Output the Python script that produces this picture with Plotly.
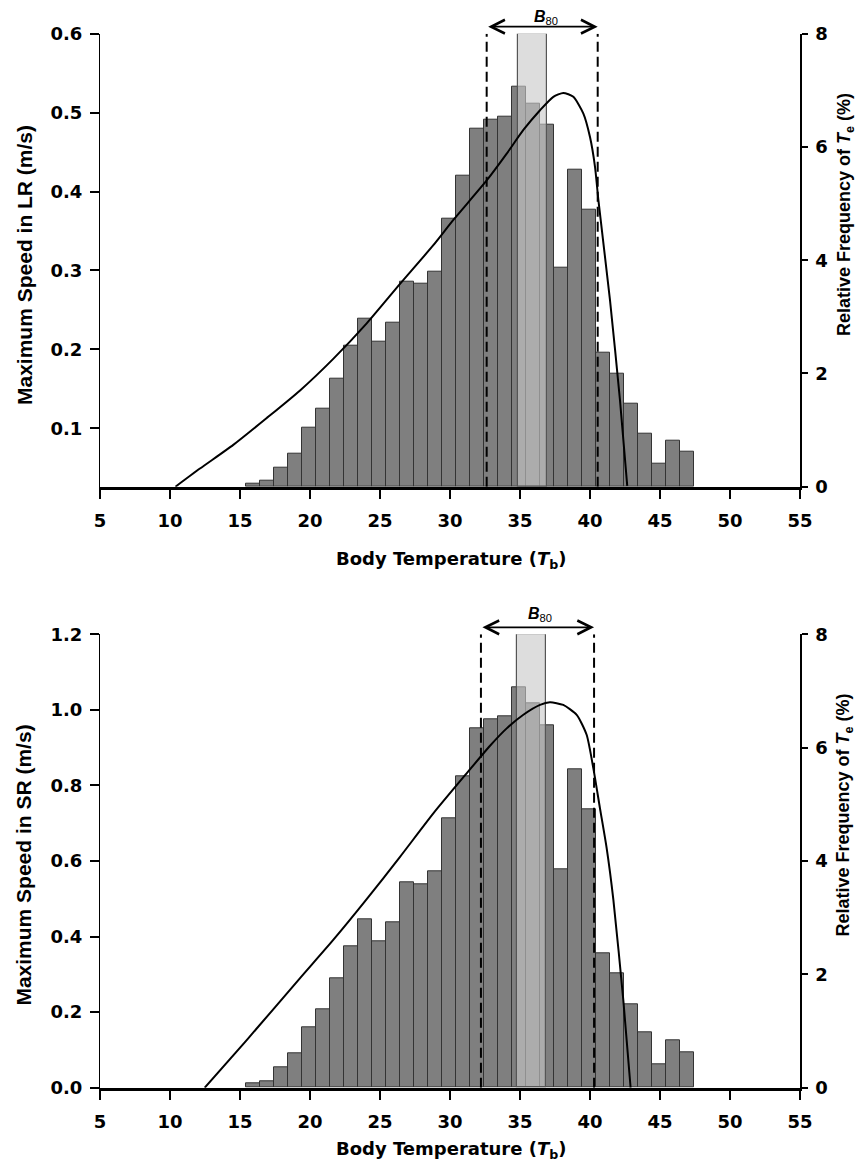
import plotly.graph_objects as go

# ---------------- data ----------------
bin_centers = [15.9, 16.9, 17.9, 18.9, 19.9, 20.9, 21.9, 22.9, 23.9, 24.9, 25.9, 26.9,
               27.9, 28.9, 29.9, 30.9, 31.9, 32.9, 33.9, 34.9, 35.9, 36.9, 37.9, 38.9,
               39.9, 40.9, 41.9, 42.9, 43.9, 44.9, 45.9, 46.9]

freq_lr = [0.06, 0.10, 0.34, 0.58, 1.05, 1.37, 1.91, 2.49, 2.96, 2.56, 2.90, 3.62,
           3.58, 3.79, 4.74, 5.49, 6.33, 6.49, 6.54, 7.07, 6.77, 6.39, 3.87, 5.60,
           4.90, 2.37, 1.99, 1.47, 0.94, 0.40, 0.81, 0.61]
freq_sr = [0.08, 0.12, 0.36, 0.60, 1.07, 1.38, 1.93, 2.50, 2.97, 2.58, 2.92, 3.62,
           3.59, 3.81, 4.75, 5.50, 6.34, 6.50, 6.55, 7.07, 6.78, 6.39, 3.86, 5.61,
           4.91, 2.37, 2.01, 1.48, 0.97, 0.41, 0.84, 0.63]

curve_lr_t = [10.39, 12.14, 14.52, 16.91, 19.29, 21.66, 24.05, 26.43, 28.81, 30.24,
              32.62, 34.05, 35.24, 36.43, 37.38, 38.09, 38.81, 39.52, 40.0, 40.36,
              40.6, 41.43, 42.14, 42.66]
curve_lr_v = [0.026, 0.049, 0.079, 0.113, 0.148, 0.188, 0.233, 0.283, 0.332, 0.364,
              0.414, 0.448, 0.478, 0.503, 0.520, 0.525, 0.520, 0.499, 0.469, 0.431,
              0.389, 0.262, 0.136, 0.027]

curve_sr_t = [12.48, 15.48, 19.29, 21.66, 24.05, 26.43, 28.81, 31.19, 32.86,
              34.05, 35.24, 36.43, 37.14, 38.09, 39.05, 39.76, 40.24, 40.71, 41.19,
              41.67, 42.38, 42.9]
curve_sr_v = [0.0, 0.126, 0.29, 0.391, 0.499, 0.611, 0.726, 0.832, 0.905,
              0.951, 0.987, 1.013, 1.020, 1.013, 0.987, 0.934, 0.845, 0.740, 0.634,
              0.497, 0.232, 0.0]

b80_lr = [32.62, 40.55]
b80_sr = [32.21, 40.29]
pref_lr = [34.84, 36.90]
pref_sr = [34.80, 36.85]

x_ticks = [5, 10, 15, 20, 25, 30, 35, 40, 45, 50, 55]
freq_ticks = [0, 2, 4, 6, 8]
lr_ticks = [0.1, 0.2, 0.3, 0.4, 0.5, 0.6]
sr_ticks = [0.0, 0.2, 0.4, 0.6, 0.8, 1.0, 1.2]

# ---------------- figure geometry ----------------
OFF = 8                      # page body margin
W, H = 865 - 2 * OFF, 1171 - 2 * OFF
PLOT_L, PLOT_R = 100 - OFF, 800 - OFF
ML, MR, MT, MB = PLOT_L, W - PLOT_R, 12, 12
PH = H - MT - MB

FONT = "Liberation Sans, Arial, sans-serif"
TICKFONT_FAMILY = "DejaVu Sans, Verdana, sans-serif"


def py(page_y):
    return (H - MB - (page_y - OFF)) / PH


def px(page_x):
    return (page_x - OFF - ML) / (W - ML - MR)


dom_top = [py(486.7), py(33.7)]
dom_bot = [py(1087.7), py(634.3)]

fig = go.Figure()

panels = [
    dict(freq=freq_lr, ct=curve_lr_t, cv=curve_lr_v, b80=b80_lr, pref=pref_lr,
         xa="x", ya="y", ya2="y2", lab_dx=0.3, lab_shift=16),
    dict(freq=freq_sr, ct=curve_sr_t, cv=curve_sr_v, b80=b80_sr, pref=pref_sr,
         xa="x2", ya="y3", ya2="y4", lab_dx=0.2, lab_shift=20),
]

for p in panels:
    fig.add_trace(go.Bar(x=bin_centers, y=p["freq"], width=1.0,
                         marker=dict(color="#7f7f7f", line=dict(color="#333333", width=1)),
                         xaxis=p["xa"], yaxis=p["ya"], showlegend=False))
    pc = (p["pref"][0] + p["pref"][1]) / 2
    pw = p["pref"][1] - p["pref"][0]
    fig.add_trace(go.Bar(x=[pc], y=[8], width=[pw],
                         marker=dict(color="rgba(200,200,200,0.62)",
                                     line=dict(color="#555555", width=1.2)),
                         xaxis=p["xa"], yaxis=p["ya"], showlegend=False))
    fig.add_trace(go.Scatter(x=[p["b80"][0], p["b80"][0], None, p["b80"][1], p["b80"][1]],
                             y=[0, 8, None, 0, 8], mode="lines",
                             line=dict(color="black", width=2, dash="10px,5px"),
                             xaxis=p["xa"], yaxis=p["ya"], showlegend=False))
    fig.add_trace(go.Scatter(x=p["ct"], y=p["cv"], mode="lines",
                             line=dict(color="black", width=2, shape="spline", smoothing=0.6),
                             xaxis=p["xa"], yaxis=p["ya2"], showlegend=False))

tickfont = dict(family=TICKFONT_FAMILY, size=18, color="black", weight=700)

xa_common = dict(range=[5, 55], tickvals=x_ticks, ticks="outside", ticklen=10, tickwidth=1.5,
                 tickcolor="black", showline=True, linewidth=2.5, linecolor="black",
                 showgrid=False, zeroline=False, tickfont=tickfont, domain=[0, 1],
                 ticklabelstandoff=6)
yf_common = dict(range=[0, 8], tickvals=freq_ticks, ticks="outside", ticklen=6, tickwidth=1.5,
                 tickcolor="black", showline=True, linewidth=1.5, linecolor="black",
                 showgrid=False, zeroline=False, tickfont=tickfont, side="right",
                 ticklabelstandoff=4)
ys_common = dict(ticks="outside", ticklen=9, tickwidth=1.5, tickcolor="black",
                 showline=True, linewidth=1.2, linecolor="black", showgrid=False,
                 zeroline=False, tickfont=tickfont, side="left", tickformat=".1f",
                 ticklabelstandoff=4)

fig.update_layout(
    width=W, height=H,
    margin=dict(l=ML, r=MR, t=MT, b=MB, autoexpand=False),
    paper_bgcolor="white", plot_bgcolor="rgba(0,0,0,0)",
    barmode="overlay", bargap=0,
    xaxis=dict(anchor="y", **xa_common),
    yaxis=dict(anchor="x", domain=dom_top, **yf_common),
    yaxis2=dict(anchor="x", overlaying="y", range=[0.026, 0.6], tickvals=lr_ticks, **ys_common),
    xaxis2=dict(anchor="y3", **xa_common),
    yaxis3=dict(anchor="x2", domain=dom_bot, **yf_common),
    yaxis4=dict(anchor="x2", overlaying="y3", range=[0, 1.2], tickvals=sr_ticks, **ys_common),
)

ann = []
for p in panels:
    ann.append(dict(x=p["b80"][1], y=8, ax=p["b80"][0], ay=0, xref=p["xa"], yref=p["ya"],
                    axref=p["xa"], ayref="pixel", yshift=7, text="", showarrow=True,
                    arrowhead=5, startarrowhead=5, arrowside="end+start",
                    arrowsize=1.5, startarrowsize=1.5, arrowwidth=1.8, arrowcolor="black"))
    ann.append(dict(x=(p["b80"][0] + p["b80"][1]) / 2 + p["lab_dx"], y=8, xref=p["xa"],
                    yref=p["ya"], yshift=p["lab_shift"], showarrow=False,
                    text="<b><i>B</i></b><sub>80</sub>",
                    font=dict(family=FONT, size=16, color="black")))

title_font = dict(family=FONT, size=21, color="black", weight=700)
rt_font = dict(family=FONT, size=18, color="black", weight=700)
xt_font = dict(family=TICKFONT_FAMILY, size=18, color="black", weight=700)

for (lt, ly, ry, xy) in [("Maximum Speed in LR (m/s)", 265, 215, 560),
                         ("Maximum Speed in SR (m/s)", 865.6, 815.6, 1150)]:
    ann.append(dict(x=px(24), y=py(ly), xref="paper", yref="paper",
                    text=lt, textangle=-90, showarrow=False, font=title_font,
                    xanchor="center", yanchor="middle"))
    ann.append(dict(x=px(845), y=py(ry), xref="paper", yref="paper",
                    text="Relative Frequency of <i>T</i><sub>e</sub> (%)", textangle=-90,
                    showarrow=False, font=rt_font, xanchor="center", yanchor="middle"))
    ann.append(dict(x=px(451), y=py(xy), xref="paper", yref="paper",
                    text="Body Temperature (<i>T</i><sub>b</sub>)", showarrow=False,
                    font=xt_font, xanchor="center", yanchor="middle"))

fig.update_layout(annotations=ann)

fig.write_html("out.html")
